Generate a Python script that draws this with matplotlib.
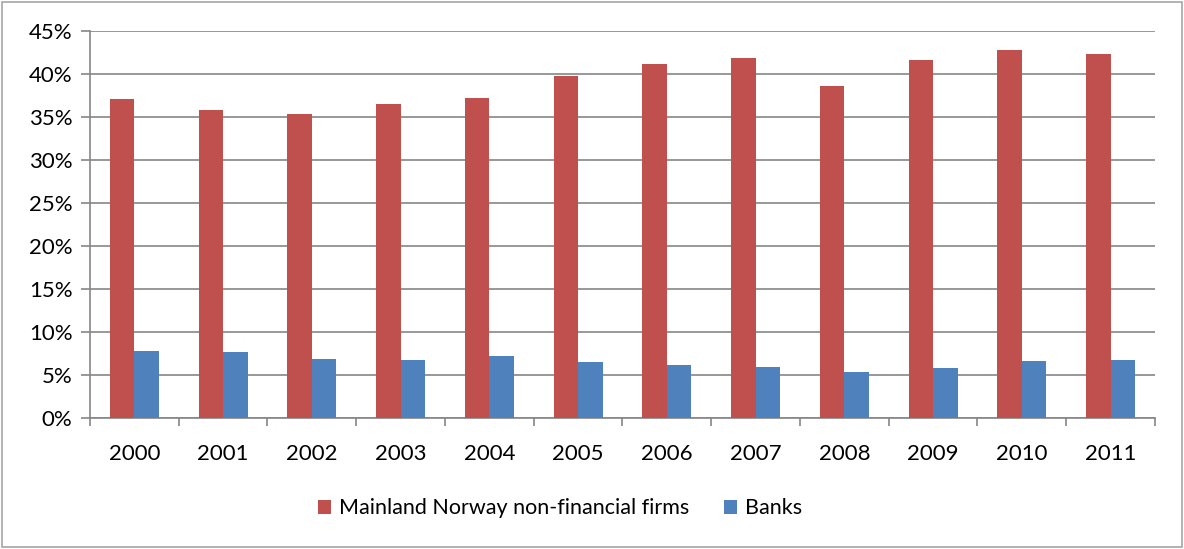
import numpy as np
import matplotlib
matplotlib.use("Agg")
import matplotlib.pyplot as plt
from matplotlib.ticker import FuncFormatter
from matplotlib.patches import Rectangle

# data
years = ["2000", "2001", "2002", "2003", "2004", "2005",
         "2006", "2007", "2008", "2009", "2010", "2011"]
firms = [37.1, 35.8, 35.3, 36.5, 37.2, 39.8,
         41.2, 41.9, 38.6, 41.6, 42.8, 42.3]
banks = [7.8, 7.7, 6.9, 6.8, 7.2, 6.5,
         6.2, 5.9, 5.3, 5.8, 6.6, 6.7]

plt.rcParams['font.family'] = ['Lato', 'DejaVu Sans']

fig = plt.figure(figsize=(11.84, 5.49), dpi=100)
ax = fig.add_axes([0.076, 0.2386, 0.8995, 0.705])

x = np.arange(len(years))
w = 0.276

ax.bar(x - w/2, firms, w, color="#C0504D", zorder=3,
       label="Mainland Norway non-financial firms")
ax.bar(x + w/2, banks, w, color="#4F81BD", zorder=3, label="Banks")

ax.set_xlim(-0.5, len(years) - 0.5)
ax.set_ylim(0, 45)
ax.set_yticks(np.arange(0, 46, 5))
ax.yaxis.set_major_formatter(FuncFormatter(lambda v, p: f"{v:.0f}%"))
ax.grid(axis="y", color="#868686", linewidth=1.2, zorder=0)

ax.set_xticks(x)
ax.set_xticklabels(years)
ax.set_xticks(np.arange(-0.5, len(years), 1), minor=True)
ax.tick_params(axis="x", which="major", length=0, pad=19, labelsize=16)
ax.tick_params(axis="x", which="minor", length=6, width=1.2, color="#868686",
               direction="out")
ax.tick_params(axis="y", length=6.5, width=1.2, color="#868686", pad=6,
               labelsize=16)

for side in ["top", "right"]:
    ax.spines[side].set_visible(False)
for side in ["left", "bottom"]:
    ax.spines[side].set_color("#868686")
    ax.spines[side].set_linewidth(1.2)

fig.legend(loc="center", bbox_to_anchor=(0.473, 0.074), ncol=2,
           frameon=False, fontsize=15.5, handlelength=0.6, handleheight=0.6,
           handletextpad=0.35, columnspacing=1.65)

# outer chart border
fig.patches.append(Rectangle((0.002, 0.003), 0.996, 0.994, transform=fig.transFigure,
                             fill=False, edgecolor="#A6A6A6", linewidth=1.2))

fig.savefig("out.png", dpi=100)
